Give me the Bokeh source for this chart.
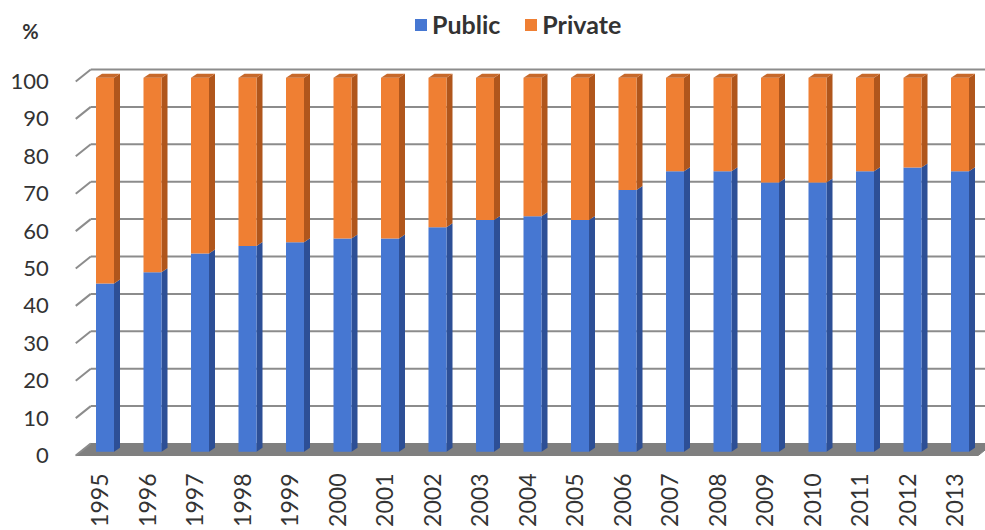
import math
from bokeh.plotting import figure
from bokeh.models import Range1d, FixedTicker, Legend, LegendItem, Label
from bokeh.core.properties import value
from bokeh.embed import file_html
from bokeh.resources import INLINE

# ---- data ----
years = ["1995", "1996", "1997", "1998", "1999", "2000", "2001", "2002", "2003", "2004",
         "2005", "2006", "2007", "2008", "2009", "2010", "2011", "2012", "2013"]
public = [45, 48, 53, 55, 56, 57, 57, 60, 62, 63, 62, 70, 75, 75, 72, 72, 75, 76, 75]
private = [55, 52, 47, 45, 44, 43, 43, 40, 38, 37, 38, 30, 25, 25, 28, 28, 25, 24, 25]
y_ticks = [0, 10, 20, 30, 40, 50, 60, 70, 80, 90, 100]
y_labels = [str(t) for t in y_ticks]

# ---- layout / styles ----
W, H = 985, 530
MB = 62
PX_X, PX_Y = 47.5, 3.74
frame_w, frame_h = W, H - MB
x0 = -99 / PX_X
x1 = x0 + frame_w / PX_X
y0 = -13 / PX_Y
y1 = y0 + frame_h / PX_Y

WALL_X = -0.5                          # front-left edge of the wall
DX, DY = 15 / PX_X, 12 / PX_Y          # wall depth
BFX, BFY = 5.5 / PX_X, 1.0             # bar front offset
BW = 18 / PX_X                         # bar front width
SDX, SDY = 6 / PX_X, 4 / PX_Y          # bar depth

BLUE, BLUE_SIDE = "#4677D2", "#2D4F96"
ORANGE, ORANGE_SIDE, ORANGE_TOP = "#EF7F33", "#B0561C", "#C7692B"
GRID = "#8C8C8C"
TXT = "#333333"
FONT = "Lato"

n = len(years)
idx = list(range(n))
tops = [a + b for a, b in zip(public, private)]

p = figure(width=W, height=H, x_range=Range1d(x0, x1), y_range=Range1d(y0, y1),
           y_axis_location=None,
           output_backend="svg", toolbar_location=None,
           min_border_left=0, min_border_right=0, min_border_top=0, min_border_bottom=MB)
p.xgrid.visible = False
p.ygrid.visible = False
p.outline_line_color = None
p.background_fill_color = "white"

# floor
p.patch([WALL_X, n - 0.5, n - 0.5 + DX, WALL_X + DX], [0, 0, DY, DY],
        fill_color="#7F7F7F", line_color="#7F7F7F")

# back wall gridlines and left wall slants
gt = [t for t in y_ticks if t > 0]
p.segment(x0=[WALL_X + DX] * len(gt), y0=[t + DY for t in gt], x1=[x1] * len(gt),
          y1=[t + DY for t in gt], line_color=GRID, line_width=2)
p.segment(x0=[WALL_X] * len(y_ticks), y0=y_ticks, x1=[WALL_X + DX] * len(y_ticks),
          y1=[t + DY for t in y_ticks], line_color=GRID, line_width=2)

# y tick labels (front edge of the left wall)
p.text(x=[WALL_X - 27 / PX_X] * len(y_ticks), y=y_ticks, text=y_labels,
       text_align="right", text_baseline="middle", text_font=value(FONT),
       text_font_size="22px", text_color=TXT)

# bar geometry
xc = [i + BFX for i in idx]
xl = [c - BW / 2 for c in xc]
xr = [c + BW / 2 for c in xc]
pub_top = [v + BFY for v in public]
all_top = [v + BFY for v in tops]

def side(b, t):
    return ([[r, r + SDX, r + SDX, r] for r in xr],
            [[bb, bb + SDY, tt + SDY, tt] for bb, tt in zip(b, t)])

sx, sy = side([BFY] * n, pub_top)
p.patches(sx, sy, fill_color=BLUE_SIDE, line_color=None)
sx, sy = side(pub_top, all_top)
p.patches(sx, sy, fill_color=ORANGE_SIDE, line_color=None)

r_pub = p.vbar(x=xc, width=BW, bottom=BFY, top=pub_top, fill_color=BLUE, line_color=None)
r_pri = p.vbar(x=xc, width=BW, bottom=pub_top, top=all_top, fill_color=ORANGE, line_color=None)

p.patches([[a, b, b + SDX, a + SDX] for a, b in zip(xl, xr)],
          [[t, t, t + SDY, t + SDY] for t in all_top],
          fill_color=ORANGE_TOP, line_color=None)

# x axis (years)
xa = p.xaxis[0]
xa.ticker = FixedTicker(ticks=idx)
xa.major_label_overrides = {i: y for i, y in zip(idx, years)}
xa.major_label_orientation = math.pi / 2
xa.major_label_text_font = FONT
xa.major_label_text_font_size = "23px"
xa.major_label_text_color = TXT
xa.major_label_standoff = 5
xa.major_tick_out = 0
xa.major_tick_in = 0
xa.axis_line_color = None
xa.major_tick_line_color = None
xa.minor_tick_line_color = None

# legend
legend = Legend(items=[LegendItem(label="Public", renderers=[r_pub]),
                       LegendItem(label="Private", renderers=[r_pri])],
                orientation="horizontal", location=(413, 429),
                glyph_width=15, glyph_height=15, label_standoff=4, spacing=23,
                label_height=20, padding=0, margin=0, border_line_color=None,
                background_fill_alpha=0,
                label_text_font=FONT, label_text_font_style="bold",
                label_text_font_size="25px", label_text_color=TXT)
p.add_layout(legend)

p.add_layout(Label(x=x0 + 30 / PX_X, y=(455 - 30) / PX_Y, text="%", text_align="center",
                   text_baseline="middle", text_font=FONT, text_font_style="bold",
                   text_font_size="20px", text_color=TXT))

open("out.html", "w").write(file_html(p, INLINE))
